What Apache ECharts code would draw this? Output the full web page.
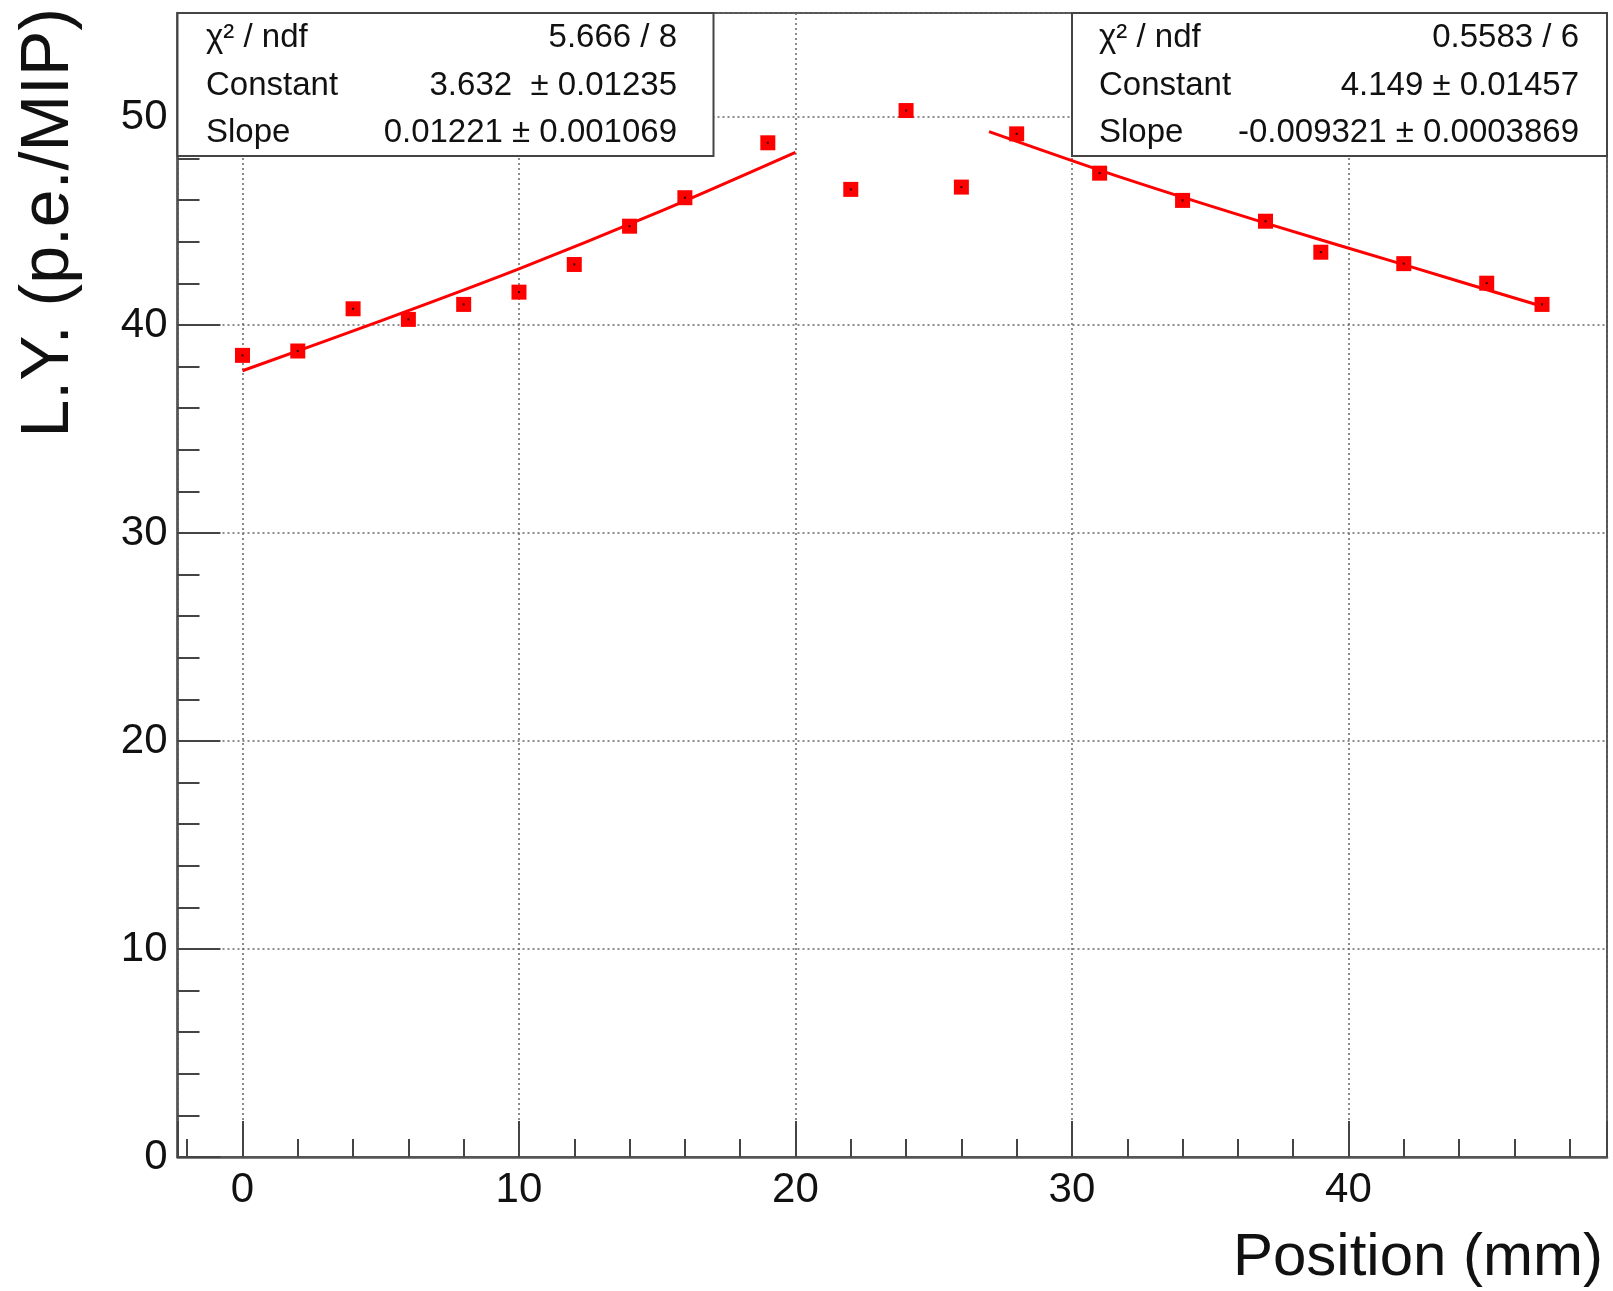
<!DOCTYPE html>
<html><head><meta charset="utf-8">
<script src="https://cdn.jsdelivr.net/npm/echarts@6/dist/echarts.min.js"></script>
<style>html,body{margin:0;padding:0;background:#fff}#c{width:1613px;height:1291px}</style>
</head><body><div id="c"></div>
<script>
// ---- data ----
const positions = [0, 2, 4, 6, 8, 10, 12, 14, 16, 19, 22, 24, 26, 28, 31, 34, 37, 39, 42, 45, 47];
const lightYield = [38.54, 38.75, 40.78, 40.27, 40.99, 41.58, 42.91, 44.75, 46.12, 48.76, 46.52, 50.31, 46.63, 49.19, 47.30, 45.99, 44.99, 43.50, 42.95, 42.01, 40.99];
const fitLeftX = [0, 5, 10, 15, 20];
const fitLeftY = [37.8, 40.2, 42.7, 45.4, 48.3];
const fitRightX = [27, 32, 37, 42, 47];
const fitRightY = [49.3, 47.0, 44.9, 42.9, 40.9];
const statsLeftLabels = ['χ² / ndf', 'Constant', 'Slope'];
const statsLeftValues = ['5.666 / 8', '3.632  ± 0.01235', '0.01221 ± 0.001069'];
const statsRightLabels = ['χ² / ndf', 'Constant', 'Slope'];
const statsRightValues = ['0.5583 / 6', '4.149 ± 0.01457', '-0.009321 ± 0.0003869'];
const xAxisTitle = 'Position (mm)';
const yAxisTitle = 'L.Y. (p.e./MIP)';
const xRange = [-2.35, 49.35];
const yRange = [0, 55];

const FONT = "'Liberation Sans', Arial, Helvetica, sans-serif";
const zip = (a, b) => a.map((v, i) => [v, b[i]]);

function statsBox(left, top, w, h, labels, values, textLeft, textRight, rowsY) {
  const els = [{
    type: 'rect', z: 100, shape: {x: left, y: top, width: w, height: h},
    style: {fill: '#fff', stroke: '#444', lineWidth: 2}
  }];
  labels.forEach((t, i) => {
    els.push({type: 'text', z: 101, x: textLeft, y: rowsY[i],
      style: {text: t, font: '33px ' + FONT, fill: '#111', align: 'left', verticalAlign: 'middle'}});
    els.push({type: 'text', z: 101, x: textRight, y: rowsY[i],
      style: {text: values[i], font: '33px ' + FONT, fill: '#111', align: 'right', verticalAlign: 'middle'}});
  });
  return els;
}

const chart = echarts.init(document.getElementById('c'), null, {renderer: 'canvas'});
const axisCommon = {
  type: 'value',
  axisLine: {show: true, onZero: false, lineStyle: {color: '#555', width: 2.5}},
  axisTick: {show: true, inside: true, lineStyle: {color: '#444', width: 2}},
  minorTick: {show: true, splitNumber: 5, lineStyle: {color: '#444', width: 2}},
  splitLine: {show: true, lineStyle: {type: [2, 3], color: '#666', width: 1.5}},
  axisLabel: {color: '#111', fontSize: 42, fontFamily: FONT,
    formatter: v => (Math.abs(v % 10) < 1e-6 ? String(Math.round(v)) : '')}
};

chart.setOption({
  animation: false,
  backgroundColor: '#fff',
  grid: {left: 177.5, right: 6, top: 13, bottom: 134, show: true, borderColor: '#555', borderWidth: 2,
    backgroundColor: 'transparent', containLabel: false, outerBoundsMode: 'none'},
  xAxis: Object.assign({}, axisCommon, {
    min: xRange[0], max: xRange[1], splitNumber: 5,
    axisTick: Object.assign({}, axisCommon.axisTick, {length: 36}),
    minorTick: Object.assign({}, axisCommon.minorTick, {length: 18}),
    axisLabel: Object.assign({}, axisCommon.axisLabel, {margin: 12})
  }),
  yAxis: Object.assign({}, axisCommon, {
    min: yRange[0], max: yRange[1], interval: 10,
    axisTick: Object.assign({}, axisCommon.axisTick, {length: 43}),
    minorTick: Object.assign({}, axisCommon.minorTick, {length: 22}),
    axisLabel: Object.assign({}, axisCommon.axisLabel, {margin: 10})
  }),
  series: [
    {type: 'line', data: zip(fitLeftX, fitLeftY), showSymbol: false, symbol: 'none', smooth: 0.3,
      lineStyle: {color: '#ff0000', width: 3}, z: 3},
    {type: 'line', data: zip(fitRightX, fitRightY), showSymbol: false, symbol: 'none', smooth: 0.3,
      lineStyle: {color: '#ff0000', width: 3}, z: 3},
    {type: 'scatter', data: zip(positions, lightYield), symbol: 'rect', symbolSize: 15,
      itemStyle: {color: '#ff0000', opacity: 1}, z: 4},
    {type: 'scatter', data: zip(positions, lightYield), symbol: 'rect', symbolSize: 2,
      itemStyle: {color: '#300000', opacity: 1}, z: 5}
  ],
  graphic: {
    elements: [].concat(
      statsBox(177.5, 13, 536, 143, statsLeftLabels, statsLeftValues, 206, 677, [38, 86, 133]),
      statsBox(1072, 13, 535, 143, statsRightLabels, statsRightValues, 1099, 1579, [38, 86, 133]),
      [
        {type: 'text', z: 100, x: 1603, y: 1258,
          style: {text: xAxisTitle, font: '60px ' + FONT, fill: '#111', align: 'right', verticalAlign: 'middle'}},
        {type: 'text', z: 100, x: 49, y: 8, rotation: Math.PI / 2,
          style: {text: yAxisTitle, font: '68px ' + FONT, fill: '#111', align: 'right', verticalAlign: 'middle'}}
      ]
    )
  }
});
</script>
</body></html>
